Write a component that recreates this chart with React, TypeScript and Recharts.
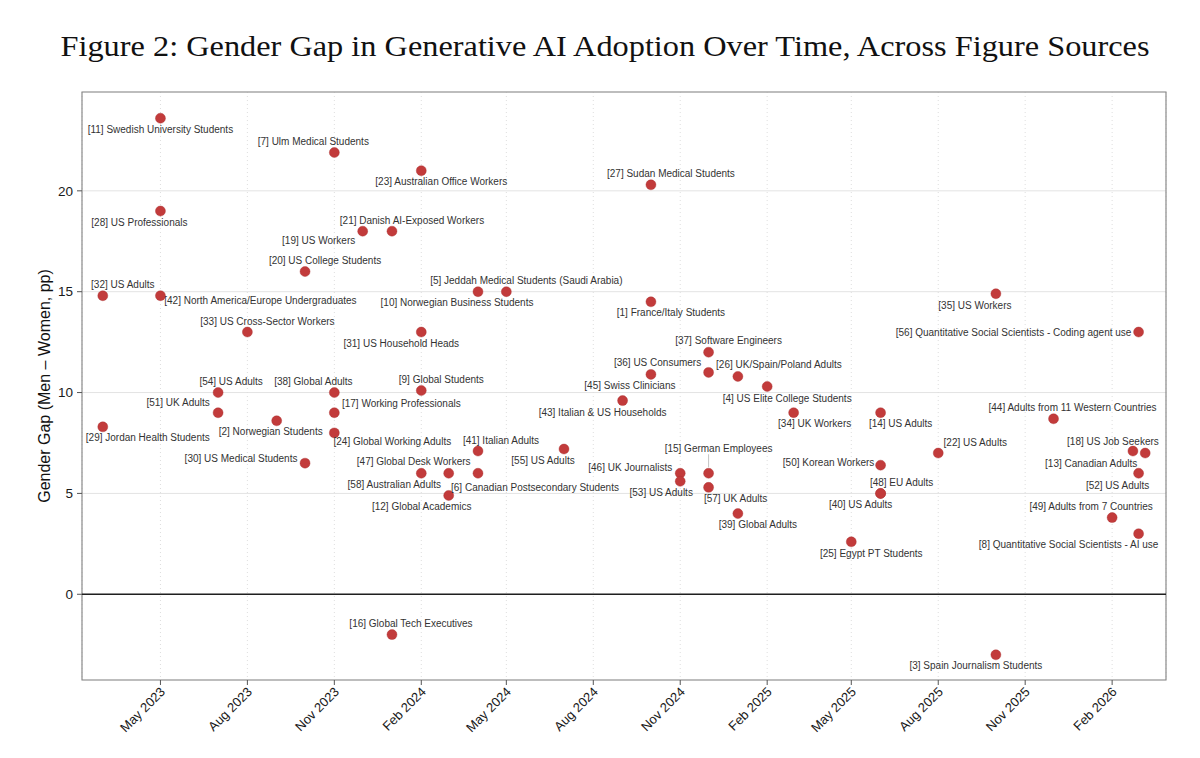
import React from 'react';
import {
  CartesianGrid,
  ReferenceArea,
  ReferenceLine,
  Scatter,
  ScatterChart,
  XAxis,
  YAxis,
} from 'recharts';

// one entry per source, same order in every array
const sourceIds = [
  1, 2, 3, 4, 5, 6, 7, 8, 9, 10, 11, 12, 13, 14, 15, 16, 17, 18, 19, 20, 21, 22, 23, 24, 25, 26, 27, 28, 29,
  30, 31, 32, 33, 34, 35, 36, 37, 38, 39, 40, 41, 42, 43, 44, 45, 46, 47, 48, 49, 50, 51, 52, 53, 54, 55, 56,
  57, 58,
];

const sourceNames = [
  'France/Italy Students',
  'Norwegian Students',
  'Spain Journalism Students',
  'US Elite College Students',
  'Jeddah Medical Students (Saudi Arabia)',
  'Canadian Postsecondary Students',
  'Ulm Medical Students',
  'Quantitative Social Scientists - AI use',
  'Global Students',
  'Norwegian Business Students',
  'Swedish University Students',
  'Global Academics',
  'Canadian Adults',
  'US Adults',
  'German Employees',
  'Global Tech Executives',
  'Working Professionals',
  'US Job Seekers',
  'US Workers',
  'US College Students',
  'Danish AI-Exposed Workers',
  'US Adults',
  'Australian Office Workers',
  'Global Working Adults',
  'Egypt PT Students',
  'UK/Spain/Poland Adults',
  'Sudan Medical Students',
  'US Professionals',
  'Jordan Health Students',
  'US Medical Students',
  'US Household Heads',
  'US Adults',
  'US Cross-Sector Workers',
  'UK Workers',
  'US Workers',
  'US Consumers',
  'Software Engineers',
  'Global Adults',
  'Global Adults',
  'US Adults',
  'Italian Adults',
  'North America/Europe Undergraduates',
  'Italian & US Households',
  'Adults from 11 Western Countries',
  'Swiss Clinicians',
  'UK Journalists',
  'Global Desk Workers',
  'EU Adults',
  'Adults from 7 Countries',
  'Korean Workers',
  'UK Adults',
  'US Adults',
  'US Adults',
  'US Adults',
  'US Adults',
  'Quantitative Social Scientists - Coding agent use',
  'UK Adults',
  'Australian Adults',
];

const surveyDates = [
  '2024-10-01', '2023-09-01', '2025-10-01', '2025-02-01', '2024-05-01', '2024-04-01', '2023-11-01',
  '2026-03-01', '2024-02-01', '2024-04-01', '2023-05-01', '2024-03-01', '2026-03-08', '2025-06-01',
  '2024-12-01', '2024-01-01', '2023-11-01', '2026-02-23', '2023-12-01', '2023-10-01', '2024-01-01',
  '2025-08-01', '2024-02-01', '2023-11-01', '2025-05-01', '2025-01-01', '2024-10-01', '2023-05-01',
  '2023-03-01', '2023-10-01', '2024-02-01', '2023-03-01', '2023-08-01', '2025-03-01', '2025-10-01',
  '2024-12-01', '2024-12-01', '2023-11-01', '2025-01-01', '2025-06-01', '2024-04-01', '2023-05-01',
  '2024-09-01', '2025-12-01', '2024-10-01', '2024-11-01', '2024-03-01', '2025-06-01', '2026-02-01',
  '2025-06-01', '2023-07-01', '2026-03-01', '2024-11-01', '2023-07-01', '2024-07-01', '2026-03-01',
  '2024-12-01', '2024-02-01',
];

// men minus women, percentage points
const genderGaps = [
  14.5, 8.6, -3.0, 10.3, 15.0, 6.0, 21.9, 3.0, 10.1, 15.0, 23.6, 4.9, 7.0, 9.0, 6.0, -2.0, 9.0, 7.1, 18.0,
  16.0, 18.0, 7.0, 21.0, 8.0, 2.6, 10.8, 20.3, 19.0, 8.3, 6.5, 13.0, 14.8, 13.0, 9.0, 14.9, 11.0, 12.0, 10.0,
  4.0, 5.0, 7.1, 14.8, 9.6, 8.7, 10.9, 6.0, 6.0, 5.0, 3.8, 6.4, 9.0, 6.0, 5.6, 10.0, 7.2, 13.0, 5.3, 6.0,
];

const xTickDates = [
  '2023-05-01', '2023-08-01', '2023-11-01', '2024-02-01', '2024-05-01', '2024-08-01',
  '2024-11-01', '2025-02-01', '2025-05-01', '2025-08-01', '2025-11-01', '2026-02-01',
];
const yTicks = [0, 5, 10, 15, 20];

// where each repelled label ended up, px offset of its centre from the point
const labelNudges: [number, number][] = [
  [20, 11], [-6, 11], [-20, 11], [20, 12], [20, -11], [57, 14], [-21, -11], [-70, 11], [20, -11],
  [-21, 11], [0, 11], [-27, 11], [-54, 10], [20, 11], [10, -25], [19, -11], [67, -9], [-20, -10],
  [-44, 9], [20, -11], [20, -11], [37, -11], [20, 11], [58, 9], [20, 12], [41, -12], [20, -11],
  [-21, 11], [45, 11], [-64, -5], [-20, 11], [20, -11], [20, -11], [21, 11], [-21, 12], [-51, -10],
  [20, -12], [-21, -11], [20, 11], [-20, 11], [23, -11], [100, 5], [-20, 12], [19, -11], [-21, 11],
  [-50, -6], [-35, -12], [21, -11], [-21, -11], [-52, -3], [-40, -10], [-21, 12], [-19, 11], [13, -11],
  [-21, 11], [-125, 0], [27, 11], [-27, 11],
];

const dayMs = 86400000;
const toTime = (d: string) => Date.parse(d + 'T00:00:00Z');
const monthNames = ['Jan', 'Feb', 'Mar', 'Apr', 'May', 'Jun', 'Jul', 'Aug', 'Sep', 'Oct', 'Nov', 'Dec'];
const fmtMonth = (t: number) => {
  const d = new Date(t);
  return `${monthNames[d.getUTCMonth()]} ${d.getUTCFullYear()}`;
};

const xDomain = [toTime('2023-05-01') - 83 * dayMs, toTime('2023-05-01') + 1064 * dayMs];
const yDomain = [-4.25, 24.9];

const points = sourceIds.map((id, i) => ({
  id,
  label: `[${id}] ${sourceNames[i]}`,
  t: toTime(surveyDates[i]),
  gap: genderGaps[i],
  nudge: labelNudges[i],
}));

const SANS = '"Liberation Sans", Arial, Helvetica, sans-serif';
const DOT = '#c23b3b';
const R = 5;

let measureCtx: CanvasRenderingContext2D | null = null;
function textWidth(s: string): number {
  if (!measureCtx) measureCtx = document.createElement('canvas').getContext('2d');
  if (!measureCtx) return s.length * 5;
  measureCtx.font = `10px ${SANS}`;
  return measureCtx.measureText(s).width;
}

function Dot(props: any) {
  const { cx, cy } = props;
  if (cx == null || cy == null) return null;
  return <circle cx={cx} cy={cy} r={R} fill={DOT} stroke="#a93030" strokeWidth={0.4} />;
}

function RepelLabel(props: any) {
  const { cx, cy, payload } = props;
  if (cx == null || cy == null) return null;
  const [dx, dy] = payload.nudge;
  const lx = cx + dx;
  const ly = cy + dy;
  const w = textWidth(payload.label);
  // nearest point of the label box to the dot
  const bx0 = lx - w / 2 - 1.5;
  const bx1 = lx + w / 2 + 1.5;
  const by0 = ly - 6;
  const by1 = ly + 6;
  const nx = Math.min(Math.max(cx, bx0), bx1);
  const ny = Math.min(Math.max(cy, by0), by1);
  const vx = nx - cx;
  const vy = ny - cy;
  const d = Math.hypot(vx, vy);
  let seg = null;
  if (d > R + 3) {
    const sx = cx + (vx / d) * (R + 1);
    const sy = cy + (vy / d) * (R + 1);
    seg = <line x1={sx} y1={sy} x2={nx} y2={ny} stroke="#b5b5b5" strokeWidth={0.8} />;
  }
  return (
    <g>
      {seg}
      <text x={lx} y={ly} dy="0.35em" textAnchor="middle" fontSize={10} fontFamily={SANS} fill="#333">
        {payload.label}
      </text>
    </g>
  );
}

function XTick(props: any) {
  const { x, payload } = props;
  return (
    <text
      transform={`translate(${x - 1},686) rotate(-45)`}
      textAnchor="end"
      dy="0.71em"
      fontSize={13}
      fontFamily={SANS}
      fill="#1a1a1a"
    >
      {fmtMonth(payload.value)}
    </text>
  );
}

export default function App() {
  return (
    <div style={{ position: 'absolute', left: 0, top: 0, width: 1200, height: 758, background: '#fff' }}>
      <ScatterChart width={1200} height={758} margin={{ top: 92, right: 34, bottom: 0, left: 0 }}>
        <CartesianGrid vertical={false} stroke="#e3e3e3" strokeWidth={1} />
        <CartesianGrid horizontal={false} stroke="#dedede" strokeDasharray="1 3" strokeWidth={1} />
        <XAxis
          type="number"
          dataKey="t"
          domain={xDomain}
          ticks={xTickDates.map(toTime)}
          interval={0}
          height={78}
          tickSize={5}
          tick={<XTick />}
          tickLine={{ stroke: '#555' }}
          axisLine={false}
        />
        <YAxis
          type="number"
          dataKey="gap"
          domain={yDomain}
          ticks={yTicks}
          interval={0}
          width={82}
          tickSize={5}
          tickMargin={4}
          tick={{ fontSize: 13.5, fontFamily: SANS, fill: '#1a1a1a' }}
          tickLine={{ stroke: '#555' }}
          axisLine={false}
        />
        <ReferenceLine y={0} stroke="#1f1f1f" strokeWidth={1.6} />
        <ReferenceArea
          x1={xDomain[0]}
          x2={xDomain[1]}
          y1={yDomain[0]}
          y2={yDomain[1]}
          fill="none"
          fillOpacity={0}
          stroke="#8a8a8a"
          strokeWidth={1.2}
        />
        <Scatter data={points} shape={<Dot />} isAnimationActive={false} />
        <Scatter data={points} shape={<RepelLabel />} isAnimationActive={false} />
      </ScatterChart>
      <svg
        width={1200}
        height={758}
        style={{ position: 'absolute', left: 0, top: 0, pointerEvents: 'none' }}
      >
        <text
          x={60.5}
          y={56}
          textLength={1089}
          lengthAdjust="spacingAndGlyphs"
          fontSize={30}
          fontFamily='"Liberation Serif", "DejaVu Serif", serif'
          fill="#111"
        >
          Figure 2: Gender Gap in Generative AI Adoption Over Time, Across Figure Sources
        </text>
        <text
          transform="translate(44.5,386) rotate(-90)"
          textAnchor="middle"
          dy="0.35em"
          fontSize={16}
          fontFamily={SANS}
          fill="#111"
        >
          Gender Gap (Men – Women, pp)
        </text>
      </svg>
    </div>
  );
}
